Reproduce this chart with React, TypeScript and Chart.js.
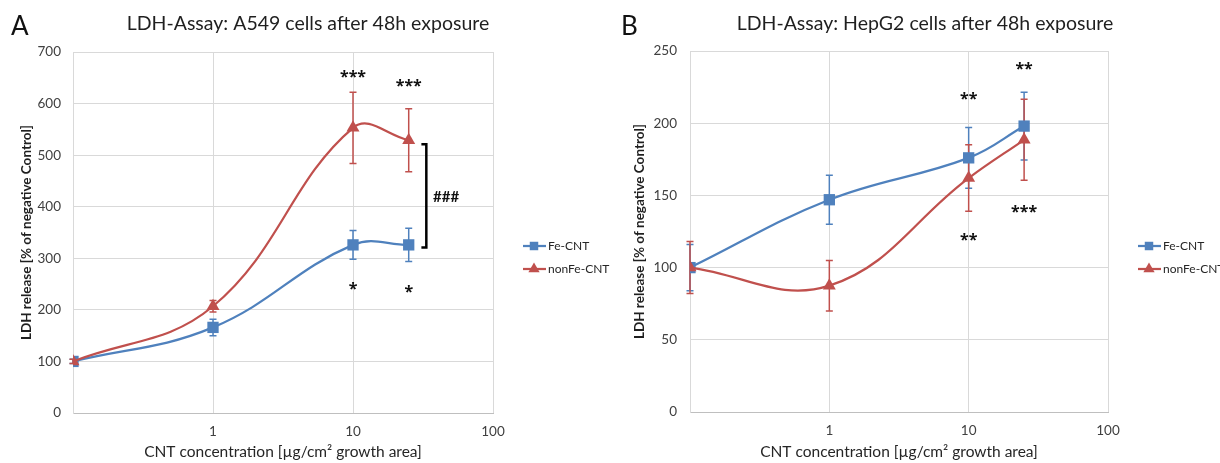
import React, { useEffect, useRef } from "react";
import { Chart, registerables } from "chart.js";

Chart.register(...registerables);

// ---------- data ----------
const concentrations = [0.1, 1, 10, 25];
const xTickValues = [0.1, 1, 10, 100];
const xTickLabels = ["", "1", "10", "100"];

const seriesNames = ["Fe-CNT", "nonFe-CNT"];

// Panel A: A549
const a549Fe = [100, 166, 326, 326];
const a549FeErr = [4, 16, 28, 32];
const a549NonFe = [100, 207, 553, 529];
const a549NonFeErr = [4, 11, 69, 61];
const a549StarX = [10, 25, 10, 25];
const a549StarY = [657, 639, 247, 241];
const a549StarText = ["***", "***", "*", "*"];
const a549HashX = [37.3];
const a549HashY = [420];
const a549HashText = ["###"];
const a549BracketX = [30.8, 33.4];
const a549BracketY = [521, 321];

// Panel B: HepG2
const hepFe = [100, 147, 176, 198];
const hepFeErr = [16, 17, 21, 23.5];
const hepNonFe = [100, 87.5, 162, 188.5];
const hepNonFeErr = [18, 17.5, 23, 28];
const hepStarX = [10, 25, 25, 10];
const hepStarY = [219, 239.5, 140.5, 121];
const hepStarText = ["**", "**", "***", "**"];

const yTicksA = { max: 700, step: 100 };
const yTicksB = { max: 250, step: 50 };

// ---------- styles ----------
const BLUE = "#4F81BD";
const RED = "#C0504D";
const FONT = "Lato, 'Open Sans', sans-serif";
const STAR_FONT = "'Noto Sans', 'DejaVu Sans', sans-serif";
const GRID = "#d9d9d9";
const TEXT = "#404040";

type Panel = {
  letter: string;
  title: string;
  titleCenter: number;
  yMax: number;
  yStep: number;
  fe: number[];
  feErr: number[];
  nonFe: number[];
  nonFeErr: number[];
  starX: number[];
  starY: number[];
  starText: string[];
  hashX?: number[];
  hashY?: number[];
  hashText?: string[];
  bracketX?: number[];
  bracketY?: number[];
  yAxisWidth: number;
  xAxisHeight: number;
  padTop: number;
  padRight: number;
  yTitlePad: number;
  yTickPad: number;
};

const panelA: Panel = {
  letter: "A",
  title: "LDH-Assay: A549 cells after 48h exposure",
  titleCenter: 308,
  yMax: yTicksA.max,
  yStep: yTicksA.step,
  fe: a549Fe,
  feErr: a549FeErr,
  nonFe: a549NonFe,
  nonFeErr: a549NonFeErr,
  starX: a549StarX,
  starY: a549StarY,
  starText: a549StarText,
  hashX: a549HashX,
  hashY: a549HashY,
  hashText: a549HashText,
  bracketX: a549BracketX,
  bracketY: a549BracketY,
  yAxisWidth: 73,
  xAxisHeight: 50,
  padTop: 52,
  padRight: 117,
  yTitlePad: 18.6,
  yTickPad: 12,
};

const panelB: Panel = {
  letter: "B",
  title: "LDH-Assay: HepG2 cells after 48h exposure",
  titleCenter: 315,
  yMax: yTicksB.max,
  yStep: yTicksB.step,
  fe: hepFe,
  feErr: hepFeErr,
  nonFe: hepNonFe,
  nonFeErr: hepNonFeErr,
  starX: hepStarX,
  starY: hepStarY,
  starText: hepStarText,
  yAxisWidth: 80,
  xAxisHeight: 51,
  padTop: 51,
  padRight: 112,
  yTitlePad: 21.6,
  yTickPad: 13,
};

function drawMarker(ctx: CanvasRenderingContext2D, kind: string, x: number, y: number, r: number, color: string) {
  ctx.save();
  ctx.fillStyle = color;
  ctx.beginPath();
  if (kind === "rect") {
    const s = r * Math.SQRT1_2;
    ctx.rect(x - s, y - s, 2 * s, 2 * s);
  } else {
    ctx.moveTo(x, y - r);
    ctx.lineTo(x + r * Math.sin(Math.PI / 3), y + r / 2);
    ctx.lineTo(x - r * Math.sin(Math.PI / 3), y + r / 2);
    ctx.closePath();
  }
  ctx.fill();
  ctx.restore();
}

function drawCenteredText(ctx: CanvasRenderingContext2D, text: string, x: number, y: number, align: CanvasTextAlign) {
  ctx.textAlign = align;
  ctx.textBaseline = "alphabetic";
  const m = ctx.measureText(text);
  const asc = m.actualBoundingBoxAscent;
  const desc = m.actualBoundingBoxDescent;
  ctx.fillText(text, x, y + (asc - desc) / 2);
}

function makeConfig(p: Panel): any {
  const errors = [p.feErr, p.nonFeErr];
  const colors = [BLUE, RED];
  const markers = ["rect", "triangle"];

  const errorBarPlugin = {
    id: "errorBars",
    beforeDatasetsDraw(chart: any) {
      const ctx = chart.ctx as CanvasRenderingContext2D;
      const yScale = chart.scales.y;
      chart.data.datasets.forEach((ds: any, i: number) => {
        const meta = chart.getDatasetMeta(i);
        ctx.save();
        ctx.strokeStyle = colors[i];
        ctx.lineWidth = 1.5;
        meta.data.forEach((pt: any, j: number) => {
          const v = ds.data[j].y;
          const e = errors[i][j];
          const yt = yScale.getPixelForValue(v + e);
          const yb = yScale.getPixelForValue(v - e);
          ctx.beginPath();
          ctx.moveTo(pt.x, yt);
          ctx.lineTo(pt.x, yb);
          ctx.moveTo(pt.x - 3.5, yt);
          ctx.lineTo(pt.x + 3.5, yt);
          ctx.moveTo(pt.x - 3.5, yb);
          ctx.lineTo(pt.x + 3.5, yb);
          ctx.stroke();
        });
        ctx.restore();
      });
    },
  };

  const decoPlugin = {
    id: "deco",
    afterDraw(chart: any) {
      const ctx = chart.ctx as CanvasRenderingContext2D;
      const xs = chart.scales.x;
      const ys = chart.scales.y;
      const area = chart.chartArea;
      ctx.save();
      // panel letter
      ctx.fillStyle = "#111";
      ctx.font = `26px ${FONT}`;
      ctx.textAlign = "left";
      ctx.textBaseline = "alphabetic";
      ctx.fillText(p.letter, 11, 35);
      // title
      ctx.fillStyle = "#1f1f1f";
      ctx.font = `19.5px ${FONT}`;
      ctx.textAlign = "center";
      ctx.fillText(p.title, p.titleCenter, 30);

      // legend
      const rows = [246, 269];
      ctx.font = `12px ${FONT}`;
      seriesNames.forEach((name, i) => {
        const y = rows[i];
        ctx.strokeStyle = colors[i];
        ctx.lineWidth = 2.25;
        ctx.beginPath();
        ctx.moveTo(area.right + 30, y);
        ctx.lineTo(area.right + 53, y);
        ctx.stroke();
        drawMarker(ctx, markers[i], area.right + 41, y, markers[i] === "rect" ? 6 : 6.5, colors[i]);
        ctx.fillStyle = "#262626";
        ctx.textAlign = "left";
        ctx.textBaseline = "middle";
        ctx.fillText(name, area.right + 55, y + 0.5);
      });

      // significance stars
      ctx.fillStyle = "#111";
      ctx.font = `bold 16px ${STAR_FONT}`;
      p.starText.forEach((t, i) => {
        drawCenteredText(ctx, t, xs.getPixelForValue(p.starX[i]), ys.getPixelForValue(p.starY[i]), "center");
      });
      if (p.hashText && p.hashX && p.hashY) {
        ctx.font = `bold 15px ${FONT}`;
        p.hashText.forEach((t, i) => {
          drawCenteredText(ctx, t, xs.getPixelForValue(p.hashX![i]), ys.getPixelForValue(p.hashY![i]), "left");
        });
      }
      if (p.bracketX && p.bracketY) {
        const x0 = xs.getPixelForValue(p.bracketX[0]);
        const x1 = xs.getPixelForValue(p.bracketX[1]);
        const y0 = ys.getPixelForValue(p.bracketY[0]);
        const y1 = ys.getPixelForValue(p.bracketY[1]);
        ctx.strokeStyle = "#000";
        ctx.lineWidth = 2.5;
        ctx.lineJoin = "miter";
        ctx.beginPath();
        ctx.moveTo(x0, y0);
        ctx.lineTo(x1, y0);
        ctx.lineTo(x1, y1);
        ctx.lineTo(x0, y1);
        ctx.stroke();
      }
      ctx.restore();
    },
  };

  const mk = (label: string, ys: number[], i: number) => ({
    label,
    data: concentrations.map((x, k) => ({ x, y: ys[k] })),
    borderColor: colors[i],
    backgroundColor: colors[i],
    pointBackgroundColor: colors[i],
    pointBorderColor: colors[i],
    pointBorderWidth: 0,
    pointStyle: markers[i],
    pointRadius: markers[i] === "rect" ? 8 : 7.5,
    borderWidth: 2.25,
    tension: 0.4,
    fill: false,
    order: i === 0 ? 1 : 0,
  });

  return {
    type: "line",
    data: {
      datasets: [mk(seriesNames[0], p.fe, 0), mk(seriesNames[1], p.nonFe, 1)],
    },
    options: {
      responsive: false,
      animation: false,
      layout: { padding: { left: 0, top: p.padTop, right: p.padRight, bottom: 0 } },
      plugins: {
        legend: { display: false },
        tooltip: { enabled: false },
        title: { display: false },
      },
      scales: {
        x: {
          type: "logarithmic",
          min: 0.1,
          max: 100,
          afterBuildTicks: (s: any) => {
            s.ticks = xTickValues.map((v) => ({ value: v }));
          },
          afterFit: (s: any) => {
            s.height = p.xAxisHeight;
          },
          ticks: {
            autoSkip: false,
            maxRotation: 0,
            padding: 11,
            color: TEXT,
            font: { family: FONT, size: 13.5 },
            callback: (v: number) => {
              const i = xTickValues.findIndex((t) => Math.abs(t - v) < 1e-9);
              return i >= 0 ? xTickLabels[i] : "";
            },
          },
          grid: { color: GRID, drawTicks: false, lineWidth: 1 },
          border: { color: "#bfbfbf", width: 1 },
          title: {
            display: true,
            text: "CNT concentration [µg/cm² growth area]",
            color: "#262626",
            font: { family: FONT, size: 15.5 },
            padding: { top: 0, bottom: 1.5 },
          },
        },
        y: {
          type: "linear",
          min: 0,
          max: p.yMax,
          afterFit: (s: any) => {
            s.width = p.yAxisWidth;
          },
          ticks: {
            stepSize: p.yStep,
            padding: p.yTickPad,
            color: TEXT,
            font: { family: FONT, size: 13.5 },
          },
          grid: { color: GRID, drawTicks: false, lineWidth: 1 },
          border: { color: GRID, width: 1 },
          title: {
            display: true,
            text: "LDH release [% of negative Control]",
            color: "#1f1f1f",
            font: { family: FONT, size: 13.5, weight: "bold" },
            padding: { top: p.yTitlePad - 0.3, bottom: 0 },
          },
        },
      },
    },
    plugins: [errorBarPlugin, decoPlugin],
  };
}

function PanelChart({ panel, left }: { panel: Panel; left: number }) {
  const ref = useRef<HTMLCanvasElement | null>(null);
  useEffect(() => {
    if (!ref.current) return;
    const chart = new Chart(ref.current, makeConfig(panel));
    return () => chart.destroy();
  }, [panel]);
  return (
    <canvas
      ref={ref}
      width={610}
      height={463}
      style={{ position: "absolute", left, top: 0, width: 610, height: 463 }}
    />
  );
}

export default function App() {
  return (
    <div
      style={{
        position: "fixed",
        left: 0,
        top: 0,
        width: 1220,
        height: 463,
        background: "#fff",
        overflow: "hidden",
      }}
    >
      <PanelChart panel={panelA} left={0} />
      <PanelChart panel={panelB} left={610} />
    </div>
  );
}
